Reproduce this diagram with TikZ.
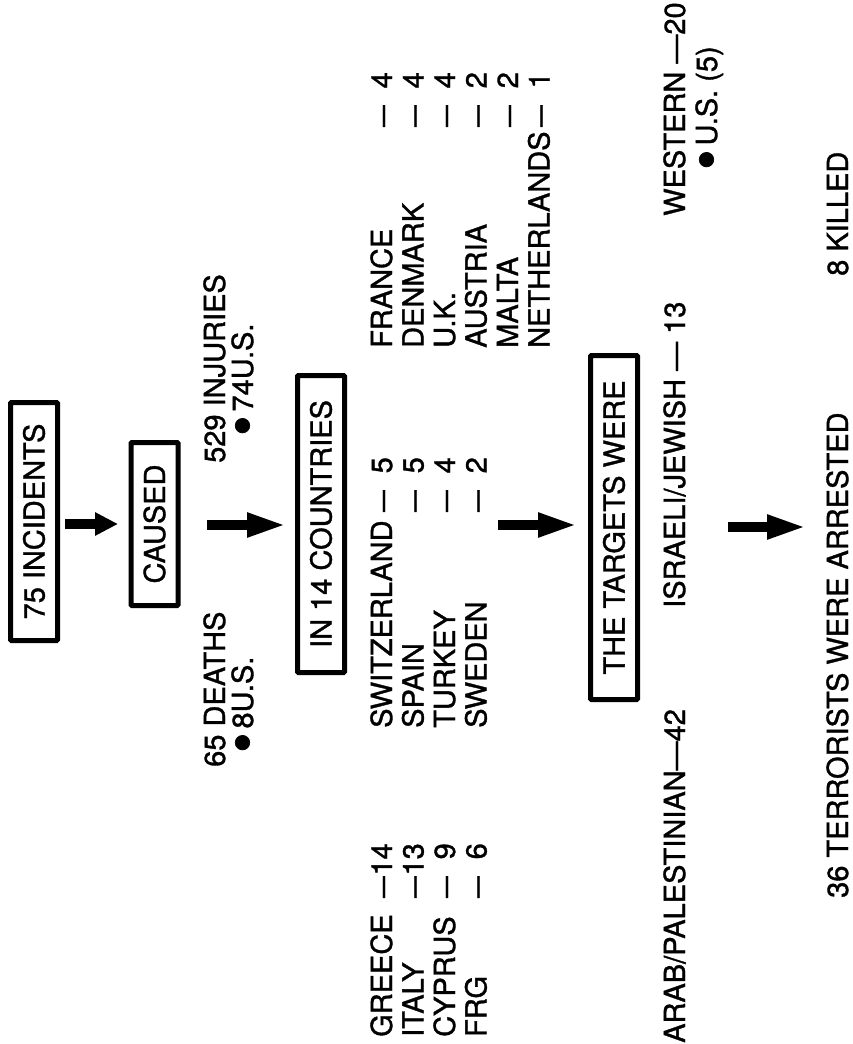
\documentclass[tikz,border=0pt]{standalone}
\usepackage{fontspec}
\setmainfont{TeX Gyre Heros}[FakeBold=1.2]
\usepackage{graphicx}
\usetikzlibrary{arrows.meta}
\newcommand{\dsh}{\scalebox{0.75}[1]{---}}
\newcommand{\bul}{\raisebox{-9.5pt}{\scalebox{2}{\textbullet}}\kern4pt}
\tikzset{
  lbl/.style={rotate=90, anchor=base west, inner sep=0pt},
  num/.style={rotate=90, anchor=base east, inner sep=0pt},
  frame/.style={draw, line width=5pt, rotate=90, inner sep=0pt, minimum height=47pt, rounded corners=1pt},
  bigarrow/.style={line width=10pt, -{Triangle[length=40pt,width=22pt]}},
}
\begin{document}
\begin{tikzpicture}[x=1pt, y=-1pt, font=\fontsize{29}{31}\selectfont]
\useasboundingbox (0,0) rectangle (853,1044);
        \node[frame, minimum width=238pt] (incid) at (34,521.5) {75 INCIDENTS};
        \node[frame, minimum width=163pt] (caused) at (154.5,524) {CAUSED};
        \node[frame, minimum width=297pt] (ctry) at (321,524) {IN 14 COUNTRIES};
        \node[frame, minimum width=344pt] (targ) at (614,527.5) {THE TARGETS WERE};
        \node[lbl] (inj) at (225,463) {529 INJURIES};
        \node[lbl] (injus) at (253,436) {\bul 74U.S.};
        \node[lbl] (dth) at (225,767) {65 DEATHS};
        \node[lbl] (dthus) at (253,753) {\bul 8U.S.};
        \node[lbl] (greece) at (392,1037) {GREECE};
        \node[lbl] (italy) at (423.5,1037) {ITALY};
        \node[lbl] (cyprus) at (455,1037) {CYPRUS};
        \node[lbl] (frg) at (486.5,1037) {FRG};
        \node[num] (greecen) at (392,843) {\dsh\makebox[33pt][r]{14}};
        \node[num] (italyn) at (423.5,843) {\dsh\makebox[33pt][r]{13}};
        \node[num] (cyprusn) at (455,843) {\dsh\makebox[33pt][r]{9}};
        \node[num] (frgn) at (486.5,843) {\dsh\makebox[33pt][r]{6}};
        \node[lbl] (swiss) at (392,728) {SWITZERLAND};
        \node[lbl] (spain) at (423.5,728) {SPAIN};
        \node[lbl] (turkey) at (455,728) {TURKEY};
        \node[lbl] (sweden) at (486.5,728) {SWEDEN};
        \node[num] (swissn) at (392,457) {\dsh\makebox[33pt][r]{5}};
        \node[num] (spainn) at (423.5,457) {\dsh\makebox[33pt][r]{5}};
        \node[num] (turkeyn) at (455,457) {\dsh\makebox[33pt][r]{4}};
        \node[num] (swedenn) at (486.5,457) {\dsh\makebox[33pt][r]{2}};
        \node[lbl] (france) at (392,348) {FRANCE};
        \node[lbl] (denmark) at (423.5,348) {DENMARK};
        \node[lbl] (uk) at (455,348) {U.K.};
        \node[lbl] (austria) at (486.5,348) {AUSTRIA};
        \node[lbl] (malta) at (518,348) {MALTA};
        \node[lbl] (neth) at (549.5,348) {NETHERLANDS};
        \node[num] (francen) at (392,72) {\dsh\makebox[33pt][r]{4}};
        \node[num] (denmarkn) at (423.5,72) {\dsh\makebox[33pt][r]{4}};
        \node[num] (ukn) at (455,72) {\dsh\makebox[33pt][r]{4}};
        \node[num] (austrian) at (486.5,72) {\dsh\makebox[33pt][r]{2}};
        \node[num] (maltan) at (518,72) {\dsh\makebox[33pt][r]{2}};
        \node[num] (nethn) at (549.5,72) {\dsh\makebox[33pt][r]{1}};
        \node[lbl] (arab) at (685,1043) {ARAB/PALESTINIAN---42};
        \node[lbl] (israeli) at (685,608) {ISRAELI/JEWISH --- 13};
        \node[lbl] (western) at (685,216) {WESTERN ---20};
        \node[lbl] (westus) at (717,170) {\bul U.S. (5)};
        \node[lbl] (arrest) at (848,898) {36 TERRORISTS WERE ARRESTED};
        \node[lbl] (killed) at (848,276) {8 KILLED};
        \coordinate (a1s) at (65,524);
        \coordinate (a1e) at (118,524);
        \coordinate (a2s) at (207,525);
        \coordinate (a2e) at (287,525);
        \coordinate (a3s) at (498,525);
        \coordinate (a3e) at (578,525);
        \coordinate (a4s) at (728,527);
        \coordinate (a4e) at (807,527);
        \draw[bigarrow, -{Triangle[length=23pt,width=22pt]}] (a1s) -- (a1e);
        \draw[bigarrow] (a2s) -- (a2e);
        \draw[bigarrow] (a3s) -- (a3e);
        \draw[bigarrow] (a4s) -- (a4e);
\end{tikzpicture}
\end{document}
